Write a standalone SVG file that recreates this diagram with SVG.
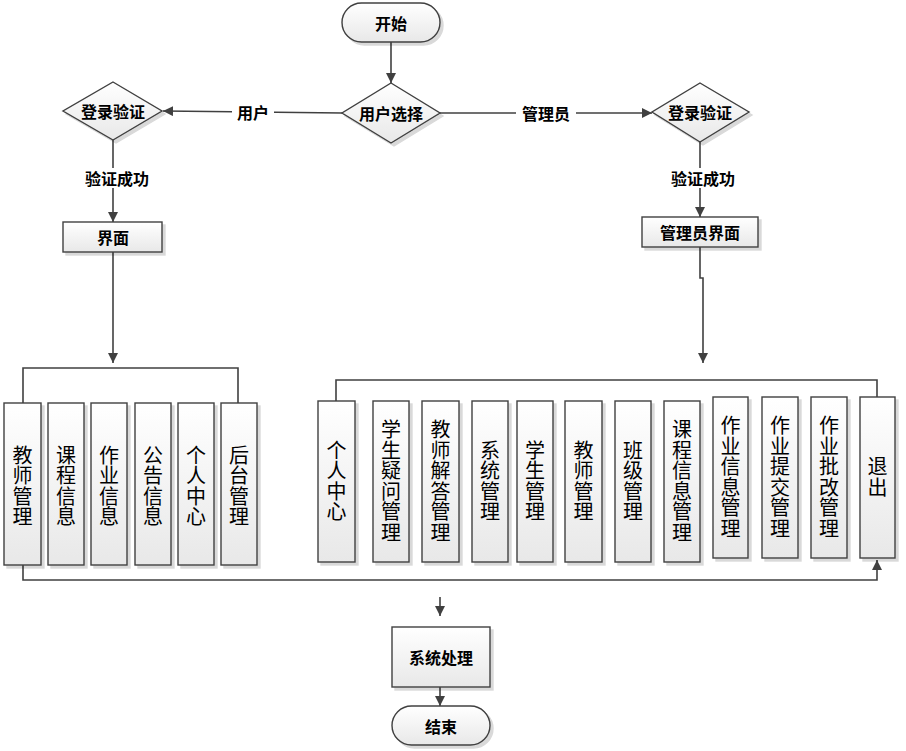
<svg xmlns="http://www.w3.org/2000/svg" width="906" height="751" viewBox="0 0 906 751">
<defs>
<linearGradient id="g" x1="0" y1="0" x2="0" y2="1">
<stop offset="0" stop-color="#ffffff"/>
<stop offset="1" stop-color="#e8e8e8"/>
</linearGradient>
<filter id="sh" x="-20%" y="-20%" width="150%" height="150%">
<feOffset in="SourceAlpha" dx="3" dy="3" result="o"/>
<feComponentTransfer in="o" result="s"><feFuncA type="linear" slope="0.15"/></feComponentTransfer>
<feMerge><feMergeNode in="s"/><feMergeNode in="SourceGraphic"/></feMerge>
</filter>
<marker id="ar" viewBox="0 0 10 10" refX="10" refY="5" markerWidth="10" markerHeight="10" markerUnits="userSpaceOnUse" orient="auto">
<path d="M0,0 L10,5 L0,10 z" fill="#404040"/>
</marker>
</defs>
<style>
.s{fill:url(#g);stroke:#404040;stroke-width:1.4;filter:url(#sh)}
.t{font-family:"Noto Sans CJK SC","Noto Sans",sans-serif;font-size:16px;font-weight:bold;fill:#000;text-anchor:middle;dominant-baseline:central}
.v{font-family:"Noto Sans CJK SC","Noto Sans",sans-serif;font-size:20px;fill:#000;text-anchor:middle;writing-mode:vertical-rl;letter-spacing:0.5px}
.c{fill:none;stroke:#404040;stroke-width:1.6}
.l{fill:#fff}
</style>
<g id="connectors">
<path class="c" d="M391,42 V83" marker-end="url(#ar)"/>
<path class="c" d="M342,113 L163,111" marker-end="url(#ar)"/>
<path class="c" d="M440,113 H652" marker-end="url(#ar)"/>
<path class="c" d="M113,140 V222" marker-end="url(#ar)"/>
<path class="c" d="M700,142 V217" marker-end="url(#ar)"/>
<path class="c" d="M113,252 V363" marker-end="url(#ar)"/>
<path class="c" d="M700,247 V278 H703 V363" marker-end="url(#ar)"/>
<path class="c" d="M23,403 V368 H238 V403"/>
<path class="c" d="M336,401 V380 H877 V397"/>
<path class="c" d="M23,565 V580 H877 V560" marker-end="url(#ar)"/>
<path class="c" d="M440,597 V616" marker-end="url(#ar)"/>
<path class="c" d="M440,687 V706" marker-end="url(#ar)"/>
<rect class="l" x="232" y="102" width="42" height="20"/>
<text class="t" x="253" y="112">用户</text>
<rect class="l" x="516" y="103" width="60" height="20"/>
<text class="t" x="546" y="113">管理员</text>
<rect class="l" x="78" y="168" width="78" height="20"/>
<text class="t" x="117" y="178">验证成功</text>
<rect class="l" x="664" y="168" width="78" height="20"/>
<text class="t" x="703" y="178">验证成功</text>
</g>
<g id="start"><rect class="s" x="342" y="3" width="98" height="39" rx="19.5"/><text class="t" x="391" y="22.5">开始</text></g>
<g id="choose"><polygon class="s" points="391,83 440,113 391,143 342,113"/><text class="t" x="391" y="113">用户选择</text></g>
<g id="login-user"><polygon class="s" points="113,82 162,111 113,140 63,111"/><text class="t" x="113" y="111">登录验证</text></g>
<g id="login-admin"><polygon class="s" points="700,83 749,112 700,142 652,112"/><text class="t" x="700" y="112">登录验证</text></g>
<g id="ui-user"><rect class="s" x="63" y="222" width="99" height="30"/><text class="t" x="113" y="237">界面</text></g>
<g id="ui-admin"><rect class="s" x="642" y="217" width="116" height="30"/><text class="t" x="700" y="232">管理员界面</text></g>
<g id="u1"><rect class="s" x="4" y="403" width="37" height="162"/><text class="v" x="22.5" y="486">教师管理</text></g>
<g id="u2"><rect class="s" x="48" y="403" width="36" height="162"/><text class="v" x="66" y="486">课程信息</text></g>
<g id="u3"><rect class="s" x="91" y="403" width="36" height="162"/><text class="v" x="109" y="486">作业信息</text></g>
<g id="u4"><rect class="s" x="135" y="403" width="36" height="162"/><text class="v" x="153" y="486">公告信息</text></g>
<g id="u5"><rect class="s" x="178" y="403" width="36" height="162"/><text class="v" x="196" y="486">个人中心</text></g>
<g id="u6"><rect class="s" x="221" y="403" width="36" height="162"/><text class="v" x="239" y="486">后台管理</text></g>
<g id="a1"><rect class="s" x="318" y="401" width="37" height="161"/><text class="v" x="336.5" y="481">个人中心</text></g>
<g id="a2"><rect class="s" x="373" y="401" width="36" height="161"/><text class="v" x="391" y="481">学生疑问管理</text></g>
<g id="a3"><rect class="s" x="422" y="401" width="37" height="161"/><text class="v" x="440.5" y="481">教师解答管理</text></g>
<g id="a4"><rect class="s" x="472" y="401" width="36" height="161"/><text class="v" x="490" y="481">系统管理</text></g>
<g id="a5"><rect class="s" x="517" y="401" width="36" height="161"/><text class="v" x="535" y="481">学生管理</text></g>
<g id="a6"><rect class="s" x="565" y="401" width="37" height="161"/><text class="v" x="583.5" y="481">教师管理</text></g>
<g id="a7"><rect class="s" x="615" y="401" width="36" height="161"/><text class="v" x="633" y="481">班级管理</text></g>
<g id="a8"><rect class="s" x="664" y="401" width="36" height="161"/><text class="v" x="682" y="481">课程信息管理</text></g>
<g id="a9"><rect class="s" x="713" y="397" width="35" height="161"/><text class="v" x="730.5" y="477">作业信息管理</text></g>
<g id="a10"><rect class="s" x="762" y="397" width="36" height="161"/><text class="v" x="780" y="477">作业提交管理</text></g>
<g id="a11"><rect class="s" x="811" y="397" width="36" height="161"/><text class="v" x="829" y="477">作业批改管理</text></g>
<g id="a12"><rect class="s" x="860" y="397" width="35" height="161"/><text class="v" x="877.5" y="477">退出</text></g>
<g id="process"><rect class="s" x="392" y="627" width="98" height="60"/><text class="t" x="441" y="657">系统处理</text></g>
<g id="end"><rect class="s" x="392" y="706" width="98" height="39" rx="19.5"/><text class="t" x="441" y="725.5">结束</text></g>
</svg>
